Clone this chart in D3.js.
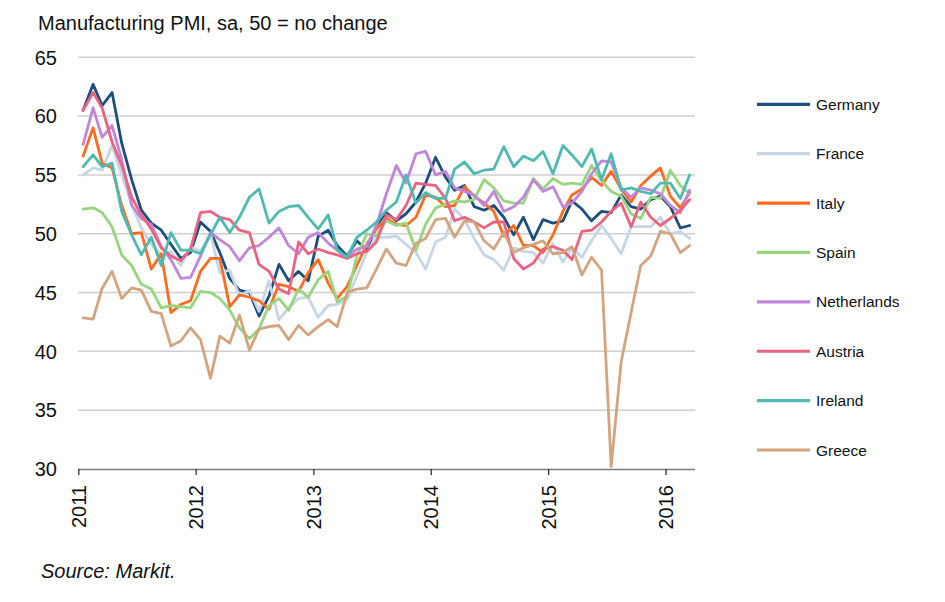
<!DOCTYPE html>
<html>
<head>
<meta charset="utf-8">
<script src="https://cdn.jsdelivr.net/npm/d3@7"></script>
<style>
  html, body { margin: 0; padding: 0; background: #ffffff; }
  svg { display: block; font-family: "Liberation Sans", Arial, sans-serif; }
</style>
</head>
<body>
<svg id="chart" width="945" height="602"></svg>
<script>
// ---------- DATA (monthly, Jan 2011 – Mar 2016) ----------
const seriesNames = ["Germany","France","Italy","Spain","Netherlands","Austria","Ireland","Greece"];
const seriesColors = ["#1d4f7c","#c6d6e4","#ff6b1f","#97d67f","#c185db","#ea6380","#4fbab2","#d4a47e"];

const germany = [60.5,62.7,60.9,62.0,57.7,54.6,52.0,50.9,50.3,49.1,47.9,48.4,
  51.0,50.2,48.4,46.2,45.2,45.0,43.0,44.7,47.4,46.0,46.8,46.0,
  49.8,50.3,49.0,48.1,49.4,48.6,50.7,51.8,51.1,51.7,52.7,54.3,
  56.5,54.8,53.7,54.1,52.3,52.0,52.4,51.4,49.9,51.4,49.5,51.2,
  50.9,51.1,52.8,52.1,51.1,51.9,51.8,53.3,52.3,52.1,52.9,53.2,
  52.3,50.5,50.7];
const france = [55.0,55.6,55.4,57.5,55.0,52.5,50.5,49.1,48.2,48.5,47.3,48.9,
  48.5,50.0,46.7,46.9,44.7,45.2,43.4,46.0,42.7,43.7,44.5,44.6,
  42.9,43.9,44.0,44.4,46.4,48.4,49.7,49.7,49.8,49.1,48.4,47.0,
  49.3,49.7,52.1,51.2,49.6,48.2,47.8,46.9,48.8,48.5,48.4,47.5,
  49.2,47.6,48.8,48.0,49.4,50.7,49.6,48.3,50.6,50.6,50.6,51.4,
  50.0,50.2,49.6];
const italy = [56.6,59.0,56.0,55.6,52.4,50.0,50.1,47.0,48.3,43.3,44.0,44.3,
  46.8,47.9,47.9,43.8,44.8,44.6,44.3,43.6,45.7,45.5,45.1,46.7,
  47.8,45.8,44.5,45.5,47.3,49.1,50.4,51.3,50.8,50.7,51.4,53.3,
  53.1,52.3,52.4,54.0,53.2,52.6,51.9,49.8,50.7,49.0,49.0,48.4,
  49.9,51.9,53.3,53.8,54.8,54.1,55.3,53.8,52.7,54.1,54.9,55.6,
  53.2,52.2,53.5];
const spain = [52.1,52.2,51.8,50.6,48.2,47.3,45.7,45.3,43.7,43.9,43.8,43.7,
  45.1,45.0,44.5,43.5,42.0,41.1,41.9,43.9,44.5,43.5,45.3,44.6,
  46.1,46.8,44.2,44.7,48.1,50.0,49.8,51.1,50.7,50.9,48.6,50.8,
  52.2,52.5,52.8,52.7,52.9,54.6,53.9,52.8,52.6,52.6,54.7,53.8,
  54.7,54.2,54.3,54.2,55.8,54.5,53.6,53.2,51.7,51.3,53.1,53.0,
  55.4,54.1,53.4];
const netherlands = [57.6,60.7,58.2,59.2,56.3,52.4,51.3,50.8,48.9,47.8,46.2,46.3,
  48.1,50.1,49.5,48.9,47.7,48.8,49.0,49.7,50.5,49.0,48.3,49.7,
  50.1,49.2,48.6,48.0,48.7,48.9,50.7,53.4,55.8,54.3,56.8,57.0,
  55.0,55.3,53.9,53.6,53.3,52.4,53.6,51.9,52.3,53.1,54.6,53.6,
  54.0,52.3,52.6,53.6,55.1,56.2,56.1,53.9,53.1,53.9,53.7,53.4,
  52.4,51.8,53.7];
const austria = [60.5,62.0,60.7,57.8,55.8,53.1,51.6,50.4,48.8,48.1,47.7,48.7,
  51.8,51.9,51.4,51.2,50.3,50.1,47.4,46.8,45.3,44.9,49.3,48.3,
  48.7,48.4,48.2,47.9,48.3,48.5,49.3,51.6,51.2,52.4,54.3,54.2,
  54.1,53.0,51.1,51.4,51.0,50.5,51.0,51.0,47.9,47.0,47.5,48.7,
  48.9,48.6,47.8,50.2,50.3,51.0,51.9,52.6,50.6,52.7,51.4,50.7,
  51.3,52.0,52.9];
const ireland = [55.7,56.7,55.7,56.0,51.9,49.9,48.2,49.7,47.3,50.1,48.6,48.6,
  48.3,49.9,51.4,50.1,51.4,53.1,53.8,50.9,51.9,52.3,52.4,51.4,
  50.4,51.6,48.6,48.0,49.7,50.3,51.0,52.0,52.7,55.0,52.6,53.5,
  53.0,53.0,55.5,56.1,55.1,55.4,55.5,57.4,55.7,56.6,56.2,57.0,
  55.1,57.5,56.7,55.7,57.2,54.6,56.8,53.7,53.9,53.6,53.4,54.3,
  54.3,53.0,55.0];
const greece = [42.85,42.75,45.35,46.8,44.5,45.4,45.2,43.4,43.2,40.45,40.9,42.0,
  41.0,37.7,41.3,40.7,43.1,40.1,41.9,42.1,42.2,41.0,42.2,41.4,
  42.1,42.7,42.1,45.0,45.3,45.4,47.0,48.7,47.5,47.3,49.2,49.6,
  51.2,51.3,49.7,51.1,51.0,49.4,48.7,50.1,48.4,48.8,49.1,49.4,
  48.3,48.4,48.9,46.5,48.0,46.9,30.2,39.1,43.3,47.3,48.1,50.2,
  50.0,48.4,49.0];

const seriesValues = [germany, france, italy, spain, netherlands, austria, ireland, greece];

const yTicks = [30,35,40,45,50,55,60,65];
const xTickYears = [2011,2012,2013,2014,2015,2016];
const titleText = "Manufacturing PMI, sa, 50 = no change";
const sourceText = "Source: Markit.";

// ---------- LAYOUT ----------
const svg = d3.select("#chart");
const months = d3.timeMonth.range(new Date(2011,0,1), new Date(2016,3,1));
const midMonth = d => new Date(d.getFullYear(), d.getMonth(), 16);

const x = d3.scaleTime()
  .domain([new Date(2011,0,1), new Date(2016,3,1)])
  .range([78.3, 694.8]);
const y = d3.scaleLinear().domain([30,65]).range([469, 57.3]);

// gridlines
svg.append("g").selectAll("line")
  .data(yTicks.filter(t => t !== 30))
  .join("line")
  .attr("x1", 78).attr("x2", 695)
  .attr("y1", d => y(d)).attr("y2", d => y(d))
  .attr("stroke", "#cfcfcf").attr("stroke-width", 1.5);

// y labels
svg.append("g").selectAll("text")
  .data(yTicks)
  .join("text")
  .attr("x", 57).attr("y", d => y(d))
  .attr("dy", "0.36em")
  .attr("text-anchor", "end")
  .attr("font-size", 20)
  .attr("fill", "#111")
  .text(d => d);

// lines
const line = d3.line()
  .x((d, i) => x(midMonth(months[i])))
  .y(d => y(d));

svg.append("g").selectAll("path")
  .data(seriesValues)
  .join("path")
  .attr("d", d => line(d))
  .attr("fill", "none")
  .attr("stroke", (d, i) => seriesColors[i])
  .attr("stroke-width", 2.8)
  .attr("stroke-linejoin", "round")
  .attr("stroke-linecap", "round");

// x axis
const xAxis = d3.axisBottom(x)
  .tickValues(xTickYears.map(yr => new Date(yr,0,1)))
  .tickSize(6)
  .tickFormat(d3.timeFormat("%Y"));

const gx = svg.append("g").attr("transform", "translate(0,469)").call(xAxis);
gx.select(".domain").attr("stroke", "#7a7a7a").attr("stroke-width", 1.6)
  .attr("d", "M78,0.5H695");
gx.selectAll(".tick line").attr("stroke", "#333").attr("stroke-width", 1.3);
gx.selectAll(".tick text")
  .attr("font-family", "'Liberation Sans', Arial, sans-serif")
  .attr("font-size", 20)
  .attr("fill", "#111")
  .attr("text-anchor", "end")
  .attr("transform", "rotate(-90)")
  .attr("x", -16)
  .attr("y", 0)
  .attr("dy", "0.36em");

// title
svg.append("text")
  .attr("x", 38).attr("y", 30)
  .attr("font-size", 20)
  .attr("fill", "#111")
  .text(titleText);

// source
svg.append("text")
  .attr("x", 41).attr("y", 578)
  .attr("font-size", 20)
  .attr("font-style", "italic")
  .attr("fill", "#111")
  .text(sourceText);

// legend
const legendY = d3.scaleLinear().domain([0, 7]).range([104.3, 450]);
const lg = svg.append("g").selectAll("g")
  .data(seriesNames)
  .join("g")
  .attr("transform", (d, i) => `translate(0,${legendY(i)})`);
lg.append("line")
  .attr("x1", 757).attr("x2", 810)
  .attr("stroke", (d, i) => seriesColors[i])
  .attr("stroke-width", 3.2);
lg.append("text")
  .attr("x", 816).attr("dy", "0.36em")
  .attr("font-size", 15.5)
  .attr("fill", "#111")
  .text(d => d);
</script>
</body>
</html>
